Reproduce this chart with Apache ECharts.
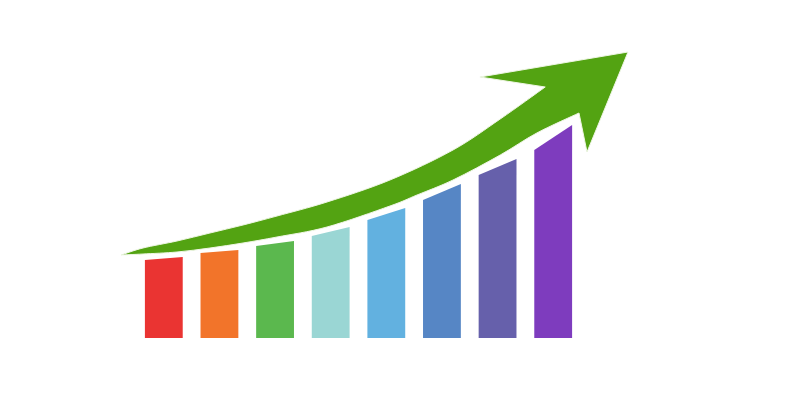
<!DOCTYPE html>
<html>
<head>
<meta charset="utf-8">
<script src="https://cdn.jsdelivr.net/npm/echarts@6/dist/echarts.min.js"></script>
<style>html,body{margin:0;padding:0;background:#fff;}#chart{width:800px;height:400px;}</style>
</head>
<body>
<div id="chart"></div>
<script>
// Bar data: height at left and right edges of each (slanted-top) bar
const categories = ['1', '2', '3', '4', '5', '6', '7', '8'];
const leftValues = [78, 85, 92, 102, 118, 138, 163, 188];
const rightValues = [81, 88, 97, 111, 130, 154, 179, 213];
const barColors = ['#ea3432', '#f2742a', '#5bb84e', '#9ad6d4', '#62b1e0', '#5686c5', '#6660ab', '#7e3cbe'];

// Growth arrow outline (x in bar-index units, y in value units)
const arrowTail = [-0.769, 83];
const arrowUpperX = [-0.374, 0.237, 0.830, 1.424, 2.035, 2.934, 4.066, 5.199, 6.048, 6.857];
const arrowUpperY = [90, 97, 105, 113, 122, 136, 158, 188, 219, 251];
const arrowHeadX = [5.684, 8.345, 7.608, 7.464];
const arrowHeadY = [261, 286, 186, 225];
const arrowLowerX = [6.705, 6.048, 5.199, 4.552, 4.066, 2.934, 2.035, 1.424, 0.830, 0.237, -0.374];
const arrowLowerY = [205, 183, 158, 143, 132, 111, 101, 95, 90, 86, 84];
const arrowColor = '#53a312';

const halfBar = 0.34;

function catmull(pts) {
  let d = '';
  for (let i = 0; i < pts.length - 1; i++) {
    const p0 = pts[i - 1] || pts[i], p1 = pts[i], p2 = pts[i + 1], p3 = pts[i + 2] || pts[i + 1];
    const c1 = [p1[0] + (p2[0] - p0[0]) / 6, p1[1] + (p2[1] - p0[1]) / 6];
    const c2 = [p2[0] - (p3[0] - p1[0]) / 6, p2[1] - (p3[1] - p1[1]) / 6];
    d += ' C' + c1[0] + ' ' + c1[1] + ' ' + c2[0] + ' ' + c2[1] + ' ' + p2[0] + ' ' + p2[1];
  }
  return d;
}

const barData = categories.map((c, i) => [i, leftValues[i], rightValues[i]]);

const chart = echarts.init(document.getElementById('chart'));
chart.setOption({
  backgroundColor: '#ffffff',
  animation: false,
  grid: { left: 136, right: 219, top: 38, bottom: 62 },
  xAxis: { type: 'value', min: -0.5, max: 7.5, show: false },
  yAxis: { type: 'value', min: 0, max: 300, show: false },
  series: [
    {
      type: 'custom',
      clip: false,
      data: barData,
      renderItem: function (params, api) {
        const i = api.value(0);
        const l = api.value(1), r = api.value(2);
        const pts = [
          api.coord([i - halfBar, 0]),
          api.coord([i + halfBar, 0]),
          api.coord([i + halfBar, r]),
          api.coord([i - halfBar, l])
        ];
        return { type: 'polygon', shape: { points: pts }, style: { fill: barColors[params.dataIndex] } };
      }
    },
    {
      type: 'custom',
      clip: false,
      data: [[0, 0]],
      renderItem: function (params, api) {
        const tail = api.coord(arrowTail);
        const upper = [tail].concat(arrowUpperX.map((x, k) => api.coord([x, arrowUpperY[k]])));
        const head = arrowHeadX.map((x, k) => api.coord([x, arrowHeadY[k]]));
        const lower = [head[3]].concat(arrowLowerX.map((x, k) => api.coord([x, arrowLowerY[k]]))).concat([tail]);
        let d = 'M' + tail[0] + ' ' + tail[1] + catmull(upper);
        head.forEach(p => { d += ' L' + p[0] + ' ' + p[1]; });
        d += catmull(lower) + ' Z';
        return {
          type: 'path',
          shape: { pathData: d },
          style: { fill: arrowColor, stroke: '#eef6e4', lineWidth: 1, lineJoin: 'miter' }
        };
      }
    }
  ]
});
</script>
</body>
</html>
